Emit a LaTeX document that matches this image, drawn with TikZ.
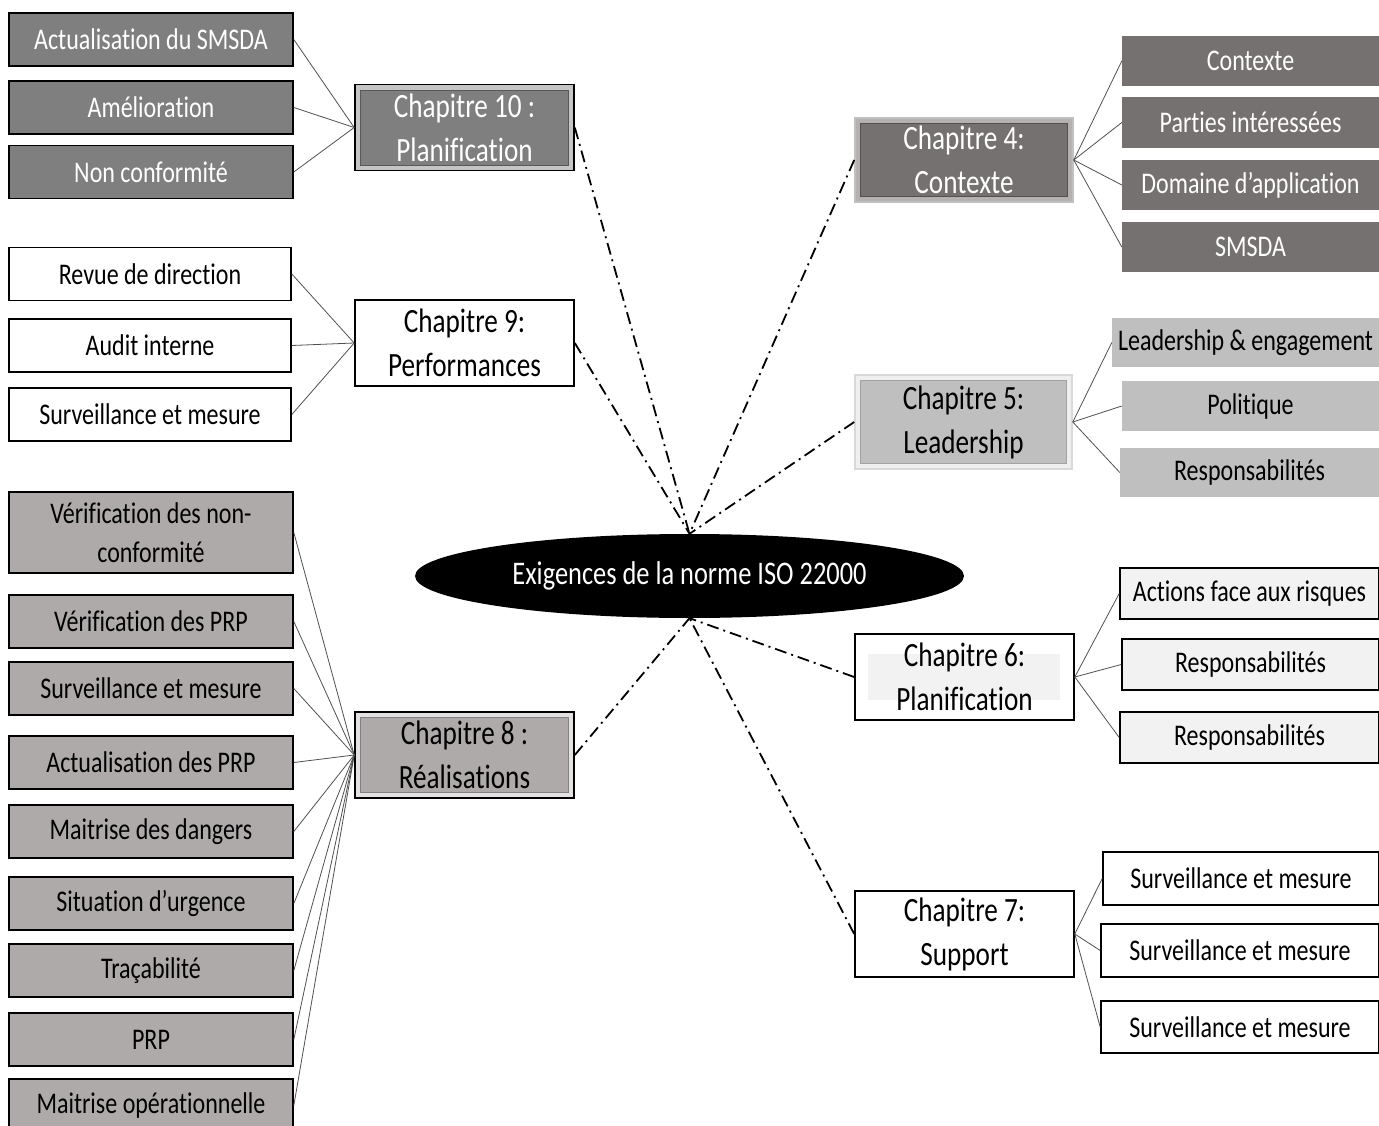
\documentclass[tikz,border=0pt]{standalone}
\usepackage{fontspec}
\setmainfont{Carlito}[FakeStretch=0.8, Ligatures={NoCommon}]
\usetikzlibrary{shapes.geometric}

\definecolor{gDark}{HTML}{7F7F7F}
\definecolor{gBrown}{HTML}{767171}
\definecolor{gMid}{HTML}{BFBFBF}
\definecolor{gWarm}{HTML}{AEAAAA}
\definecolor{gPale}{HTML}{F2F2F2}
\definecolor{linkgray}{HTML}{505050}

\tikzset{
  box/.style={rectangle, inner sep=0pt, align=center,
    font=\fontsize{30}{39}\selectfont},
  chap/.style={rectangle, inner sep=0pt, align=center,
    minimum width=219pt, minimum height=86pt,
    font=\fontsize{34}{44}\selectfont},
  lineblack/.style={draw=black, line width=1.6pt},
  leafdark/.style={box, lineblack, fill=gDark, text=white,
    minimum width=284pt, minimum height=53pt},
  leafwhite/.style={box, lineblack, fill=white, text=black,
    minimum width=282pt, minimum height=53pt},
  leafwarm/.style={box, lineblack, fill=gWarm, text=black,
    minimum width=284pt, minimum height=53pt},
  leafbrown/.style={box, fill=gBrown, text=white,
    minimum width=257pt, minimum height=50pt},
  leafmid/.style={box, fill=gMid, text=black,
    minimum width=257pt, minimum height=50pt},
  leafpale/.style={box, lineblack, fill=gPale, text=black,
    minimum width=259pt, minimum height=51pt},
  leafplain/.style={box, lineblack, fill=white, text=black,
    minimum width=277pt, minimum height=53pt},
  % raised frame drawn inside a chapter box
  bevel/.style 2 args={path picture={
    \draw[line width=11pt, draw=#1]
      (path picture bounding box.south west) rectangle (path picture bounding box.north east);
    \draw[line width=0.8pt, draw=#2]
      ([shift={(5.5pt,5.5pt)}]path picture bounding box.south west) rectangle
      ([shift={(-5.5pt,-5.5pt)}]path picture bounding box.north east);}},
  link/.style={draw=linkgray, line width=0.8pt},
  dashlink/.style={draw=black, line width=1.8pt,
    dash pattern=on 12pt off 5pt on 2pt off 5pt},
}

\begin{document}
\begin{tikzpicture}[x=1pt, y=-1pt]
\useasboundingbox (0,0) rectangle (1379,1126);

% central ellipse
\node[ellipse, fill=black, text=white, inner sep=0pt,
  minimum width=549pt, minimum height=84pt,
  font=\fontsize{33}{40}\selectfont] (iso) at (689.5,576) {Exigences de la norme ISO 22000};

% chapter 10
\node[chap, fill=gDark, text=white, bevel={gDark!45!white}{gDark!70!black}, lineblack]
  (c10) at (464.5,127.5) {Chapitre 10 :\\Planification};
\node[leafdark] (a1) at (151,39.5) {Actualisation du SMSDA};
\node[leafdark] (a2) at (151,107.5) {Amélioration};
\node[leafdark] (a3) at (151,172) {Non conformité};

% chapter 9
\node[chap, fill=white, lineblack] (c9) at (464.5,343) {Chapitre 9:\\Performances};
\node[leafwhite] (b1) at (150,274) {Revue de direction};
\node[leafwhite] (b2) at (150,345.5) {Audit interne};
\node[leafwhite] (b3) at (150,414.5) {Surveillance et mesure};

% chapter 8
\node[chap, fill=gWarm, text=black, bevel={gWarm!35!white}{gWarm!75!black}, lineblack]
  (c8) at (464.5,755) {Chapitre 8 :\\Réalisations};
\node[leafwarm, minimum height=81pt] (d1) at (151,532.5) {Vérification des non-\\conformité};
\node[leafwarm] (d2) at (151,621.5) {Vérification des PRP};
\node[leafwarm] (d3) at (151,688.5) {Surveillance et mesure};
\node[leafwarm] (d4) at (151,762.5) {Actualisation des PRP};
\node[leafwarm] (d5) at (151,831.5) {Maitrise des dangers};
\node[leafwarm] (d6) at (151,903.5) {Situation d’urgence};
\node[leafwarm] (d7) at (151,970.5) {Traçabilité};
\node[leafwarm] (d8) at (151,1039.5) {PRP};
\node[leafwarm] (d9) at (151,1105.5) {Maitrise opérationnelle};

% chapter 4
\node[chap, minimum width=218pt, minimum height=84pt, fill=gBrown, text=white,
  bevel={gBrown!55!white}{gBrown!70!black}, draw=gBrown!45!white, line width=1.6pt]
  (c4) at (964,160) {Chapitre 4:\\Contexte};
\node[leafbrown] (e1) at (1250.5,61) {Contexte};
\node[leafbrown, minimum height=51pt] (e2) at (1250.5,122.5) {Parties intéressées};
\node[leafbrown] (e3) at (1250.5,185) {Domaine d’application};
\node[leafbrown] (e4) at (1250.5,247) {SMSDA};

% chapter 5
\node[chap, minimum width=217pt, minimum height=94pt, fill=gMid, text=black,
  bevel={gMid!25!white}{gMid!85!black}, draw=gMid!60!white, line width=1.6pt]
  (c5) at (963.5,422) {Chapitre 5:\\Leadership};
\node[leafmid, minimum width=267pt, minimum height=49pt] (f1) at (1245.5,342.5) {Leadership \& engagement};
\node[leafmid] (f2) at (1250.5,406) {Politique};
\node[leafmid, minimum width=259pt, minimum height=49pt] (f3) at (1249.5,472.5) {Responsabilités};

% chapter 6
\node[chap, fill=white, lineblack, path picture={
    \fill[gPale] ([shift={(13pt,20pt)}]path picture bounding box.south west) rectangle
      ([shift={(-14pt,-20pt)}]path picture bounding box.north east);}]
  (c6) at (964.5,677) {Chapitre 6:\\Planification};
\node[leafpale] (g1) at (1249.5,593.5) {Actions face aux risques};
\node[leafpale, minimum width=257pt] (g2) at (1250.5,664.5) {Responsabilités};
\node[leafpale] (g3) at (1249.5,737.5) {Responsabilités};

% chapter 7
\node[chap, fill=white, lineblack] (c7) at (964.5,934) {Chapitre 7:\\Support};
\node[leafplain, minimum width=276pt] (h1) at (1241,878.5) {Surveillance et mesure};
\node[leafplain, minimum width=278pt] (h2) at (1240,950.5) {Surveillance et mesure};
\node[leafplain, minimum width=278pt, minimum height=52pt] (h3) at (1240,1027) {Surveillance et mesure};

% links from each chapter to its items
\foreach \n in {a1,a2,a3} \draw[link] (\n.east) -- (c10.west);
\foreach \n in {b1,b2,b3} \draw[link] (\n.east) -- (c9.west);
\foreach \n in {d1,d2,d3,d4,d5,d6,d7,d8,d9} \draw[link] (\n.east) -- (c8.west);
\foreach \n in {e1,e2,e3,e4} \draw[link] (c4.east) -- (\n.west);
\foreach \n in {f1,f2,f3} \draw[link] (c5.east) -- (\n.west);
\foreach \n in {g1,g2,g3} \draw[link] (c6.east) -- (\n.west);
\foreach \n in {h1,h2,h3} \draw[link] (c7.east) -- (\n.west);

% dash-dot links from the ellipse to the chapters
\draw[dashlink] (c10.east) -- (iso.north);
\draw[dashlink] (c9.east) -- (iso.north);
\draw[dashlink] (c4.west) -- (iso.north);
\draw[dashlink] (c5.west) -- (iso.north);
\draw[dashlink] (c8.east) -- (iso.south);
\draw[dashlink] (c6.west) -- (iso.south);
\draw[dashlink] (c7.west) -- (iso.south);
\end{tikzpicture}
\end{document}
